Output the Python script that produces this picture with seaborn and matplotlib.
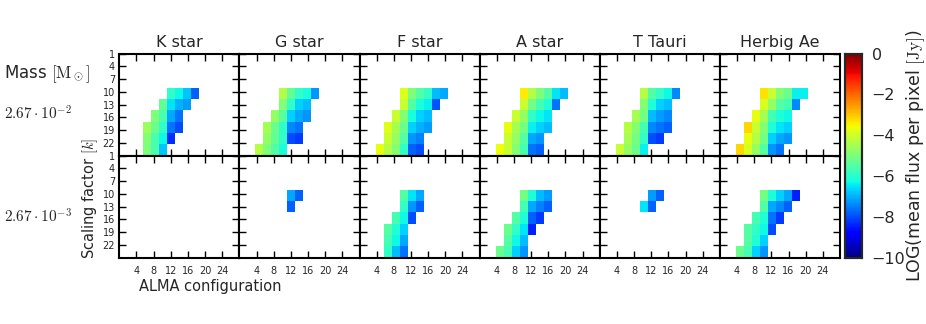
import numpy as np
import matplotlib
matplotlib.use("Agg")
import matplotlib.pyplot as plt
import seaborn as sns

sns.set_style("white")
plt.rcParams['font.family'] = ['DejaVu Sans']
plt.rcParams['mathtext.fontset'] = 'cm'

_ = np.nan
EMPTY = [_] * 15

# ---- data: LOG(mean flux per pixel [Jy]); rows = scaling factor k (1..25 step 3), cols = ALMA configuration ----
stars = ["K star", "G star", "F star", "A star", "T Tauri", "Herbig Ae"]
x_ticks = [4, 8, 12, 16, 20, 24]
y_ticks = [1, 4, 7, 10, 13, 16, 19, 22]
cbar_ticks = [0, -2, -4, -6, -8, -10]
mass_labels = [r'$2.67\cdot10^{-2}$', r'$2.67\cdot10^{-3}$']

k_hi = [EMPTY, EMPTY, EMPTY,
        [_, _, _, _, _, _, -5.9, -6.3, -6.8, -7.8, _, _, _, _, _],
        [_, _, _, _, _, -5.3, -6.5, -7.0, -7.2, _, _, _, _, _, _],
        [_, _, _, _, -5.0, -5.6, -7.1, -7.6, _, _, _, _, _, _, _],
        [_, _, _, -4.6, -5.2, -5.9, -7.6, -8.0, _, _, _, _, _, _, _],
        [_, _, _, -4.9, -5.6, -6.3, -8.3, _, _, _, _, _, _, _, _],
        [_, _, _, -5.0, -5.6, -6.8, _, _, _, _, _, _, _, _, _]]
g_hi = [EMPTY, EMPTY, EMPTY,
        [_, _, _, _, _, -4.35, -5.3, -5.9, -6.2, -7.3, _, _, _, _, _],
        [_, _, _, _, _, -4.95, -5.9, -6.7, -6.9, _, _, _, _, _, _],
        [_, _, _, _, -4.7, -5.4, -6.7, -7.1, -7.3, _, _, _, _, _, _],
        [_, _, _, -4.5, -5.2, -5.9, -7.4, -7.6, _, _, _, _, _, _, _],
        [_, _, _, -4.7, -5.3, -5.9, -8.0, -8.2, _, _, _, _, _, _, _],
        [_, _, -4.3, -5.0, -5.5, -6.2, _, _, _, _, _, _, _, _, _]]
f_hi = [EMPTY, EMPTY, EMPTY,
        [_, _, _, _, _, -3.8, -5.0, -5.5, -5.9, -6.9, -7.1, _, _, _, _],
        [_, _, _, _, _, -4.1, -5.5, -6.2, -6.4, -7.9, _, _, _, _, _],
        [_, _, _, _, -4.1, -4.9, -6.2, -6.7, -6.9, _, _, _, _, _, _],
        [_, _, _, -3.8, -4.5, -5.2, -6.7, -7.0, -7.2, _, _, _, _, _, _],
        [_, _, _, -4.1, -4.7, -5.5, -7.3, -7.5, _, _, _, _, _, _, _],
        [_, _, -3.7, -4.3, -4.9, -5.9, -7.8, -8.0, _, _, _, _, _, _, _]]
a_hi = [EMPTY, EMPTY, EMPTY,
        [_, _, _, _, _, -3.4, -4.3, -5.0, -5.5, -6.5, -6.9, _, _, _, _],
        [_, _, _, _, _, -4.1, -5.1, -5.7, -6.1, -7.6, _, _, _, _, _],
        [_, _, _, _, -4.1, -4.7, -5.9, -6.3, -6.5, _, _, _, _, _, _],
        [_, _, _, -3.7, -4.5, -5.1, -6.4, -6.7, -6.9, _, _, _, _, _, _],
        [_, _, _, -4.1, -4.7, -5.5, -7.1, -7.3, _, _, _, _, _, _, _],
        [_, _, -3.6, -4.1, -4.9, -5.7, -7.6, -7.8, _, _, _, _, _, _, _]]
t_hi = [EMPTY, EMPTY, EMPTY,
        [_, _, _, _, _, -4.3, -5.5, -5.9, -6.3, -7.4, _, _, _, _, _],
        [_, _, _, _, _, -4.9, -6.1, -6.7, -6.9, _, _, _, _, _, _],
        [_, _, _, _, -4.5, -5.1, -6.9, -7.2, -7.4, _, _, _, _, _, _],
        [_, _, _, -4.3, -4.9, -5.7, -7.4, -7.6, -7.8, _, _, _, _, _, _],
        [_, _, _, -4.5, -5.1, -5.9, -8.0, -8.2, _, _, _, _, _, _, _],
        [_, _, -4.1, -4.7, -5.2, -6.4, _, _, _, _, _, _, _, _, _]]
h_hi = [EMPTY, EMPTY, EMPTY,
        [_, _, _, _, _, -3.3, -4.1, -4.9, -5.2, -6.4, -6.4, _, _, _, _],
        [_, _, _, _, _, -3.9, -4.7, -5.5, -5.7, -7.4, _, _, _, _, _],
        [_, _, _, _, -3.7, -4.5, -5.7, -6.1, -6.3, _, _, _, _, _, _],
        [_, _, _, -3.2, -4.1, -4.9, -6.1, -6.5, -6.7, _, _, _, _, _, _],
        [_, _, _, -3.7, -4.3, -5.1, -6.7, -7.1, -7.3, _, _, _, _, _, _],
        [_, _, -3.2, -3.9, -4.7, -5.5, -7.3, -7.6, _, _, _, _, _, _, _]]

k_lo = [EMPTY] * 9
g_lo = [EMPTY, EMPTY, EMPTY,
        [_, _, _, _, _, _, -7.1, -7.8, _, _, _, _, _, _, _],
        [_, _, _, _, _, _, -7.8, _, _, _, _, _, _, _, _],
        EMPTY, EMPTY, EMPTY, EMPTY]
f_lo = [EMPTY, EMPTY, EMPTY,
        [_, _, _, _, _, -5.5, -6.5, -7.1, _, _, _, _, _, _, _],
        [_, _, _, _, _, -5.9, -7.3, -7.8, _, _, _, _, _, _, _],
        [_, _, _, _, -5.7, -6.3, -8.0, _, _, _, _, _, _, _, _],
        [_, _, _, -5.5, -6.1, -6.7, _, _, _, _, _, _, _, _, _],
        [_, _, _, -5.7, -6.3, -7.1, _, _, _, _, _, _, _, _, _],
        [_, _, _, -5.9, -6.9, -7.6, _, _, _, _, _, _, _, _, _]]
a_lo = [EMPTY, EMPTY, EMPTY,
        [_, _, _, _, _, -5.1, -6.1, -6.9, -7.2, _, _, _, _, _, _],
        [_, _, _, _, _, -5.7, -7.1, -7.5, -7.8, _, _, _, _, _, _],
        [_, _, _, _, -5.5, -6.1, -7.8, -8.2, _, _, _, _, _, _, _],
        [_, _, _, -5.2, -5.9, -6.5, -8.4, _, _, _, _, _, _, _, _],
        [_, _, _, -5.5, -6.3, -6.9, _, _, _, _, _, _, _, _, _],
        [_, _, -5.2, -5.7, -6.7, -7.3, _, _, _, _, _, _, _, _, _]]
t_lo = [EMPTY, EMPTY, EMPTY,
        [_, _, _, _, _, _, -7.2, -7.8, _, _, _, _, _, _, _],
        [_, _, _, _, _, -6.5, -7.8, _, _, _, _, _, _, _, _],
        EMPTY, EMPTY, EMPTY, EMPTY]
h_lo = [EMPTY, EMPTY, EMPTY,
        [_, _, _, _, _, -5.1, -6.1, -6.7, -7.1, -8.4, _, _, _, _, _],
        [_, _, _, _, _, -5.5, -7.1, -7.4, -7.8, _, _, _, _, _, _],
        [_, _, _, _, -5.7, -6.1, -7.6, -8.2, _, _, _, _, _, _, _],
        [_, _, _, -5.5, -5.9, -6.3, -8.0, _, _, _, _, _, _, _, _],
        [_, _, _, -5.5, -6.1, -6.7, _, _, _, _, _, _, _, _, _],
        [_, _, -5.2, -5.7, -6.7, -7.3, _, _, _, _, _, _, _, _, _]]

panels = [[k_hi, g_hi, f_hi, a_hi, t_hi, h_hi],
          [k_lo, g_lo, f_lo, a_lo, t_lo, h_lo]]

# axis value ranges covered by the image
X_MIN, X_MAX = 0, 28
Y_MIN, Y_MAX = 1, 25

W, H = 926, 324
fig = plt.figure(figsize=(W / 100, H / 100), dpi=100)
L, R, T, B = 119.3 / W, 840 / W, 1 - 53.6 / H, 1 - 257.6 / H
gs = fig.add_gridspec(2, 6, left=L, right=R, top=T, bottom=B, wspace=0, hspace=0)
cax = fig.add_axes([845 / W, B, 17 / W, T - B])

for i in range(2):
    for j in range(6):
        ax = fig.add_subplot(gs[i, j])
        arr = np.array(panels[i][j], dtype=float)
        nr, nc = arr.shape
        first = (i == 0 and j == 0)
        sns.heatmap(arr, ax=ax, cmap='jet', vmin=-10, vmax=0,
                    cbar=first, cbar_ax=cax if first else None,
                    xticklabels=False, yticklabels=False)
        ax.set_xlim(0, nc)
        ax.set_ylim(nr, 0)
        xpos = [(v - X_MIN) * nc / (X_MAX - X_MIN) for v in x_ticks]
        ypos = [(v - Y_MIN) * nr / (Y_MAX - Y_MIN) for v in y_ticks]
        ax.set_xticks(xpos)
        ax.set_yticks(ypos)
        ax.set_xticklabels([str(v) for v in x_ticks] if i == 1 else [])
        ax.set_yticklabels([str(v) for v in y_ticks] if j == 0 else [])
        ax.tick_params(direction='in', top=True, right=True, bottom=True, left=True,
                       length=5, width=1, color='black', labelsize=7, pad=3)
        ax.tick_params(axis='x', pad=6)
        for s in ax.spines.values():
            s.set_visible(True)
            s.set_linewidth(1.5)
            s.set_color('black')
        if i == 0:
            ax.set_title(stars[j], fontsize=11.5, pad=5)

cax.set_yticks(cbar_ticks)
cax.set_yticklabels([str(v).replace('-', '\u2212') for v in cbar_ticks])
cax.tick_params(length=0, labelsize=11.5, pad=7)
for s in cax.spines.values():
    s.set_visible(True)
    s.set_linewidth(1.5)
cb = getattr(cax.collections[0], 'colorbar', None)
if cb is not None:
    cb.outline.set_visible(True)
    cb.outline.set_linewidth(1.5)

fig.text(916 / W, 1 - 156 / H, r'LOG(mean flux per pixel $[\mathrm{Jy}]$)', fontsize=12.5,
         rotation=90, va='center', ha='center')
fig.text(4 / W, 1 - 74 / H, r'Mass $[\mathrm{M}_\odot]$', fontsize=12, va='center', ha='left')
fig.text(4 / W, 1 - 114 / H, mass_labels[0], fontsize=11, va='center', ha='left')
fig.text(4 / W, 1 - 217 / H, mass_labels[1], fontsize=11, va='center', ha='left')
fig.text(90 / W, 1 - 198 / H, r'Scaling factor $[k]$', fontsize=10.5, rotation=90,
         va='center', ha='center')
fig.text(139 / W, 1 - 287 / H, 'ALMA configuration', fontsize=10.5, va='center', ha='left')

fig.savefig('out.png', dpi=100)
